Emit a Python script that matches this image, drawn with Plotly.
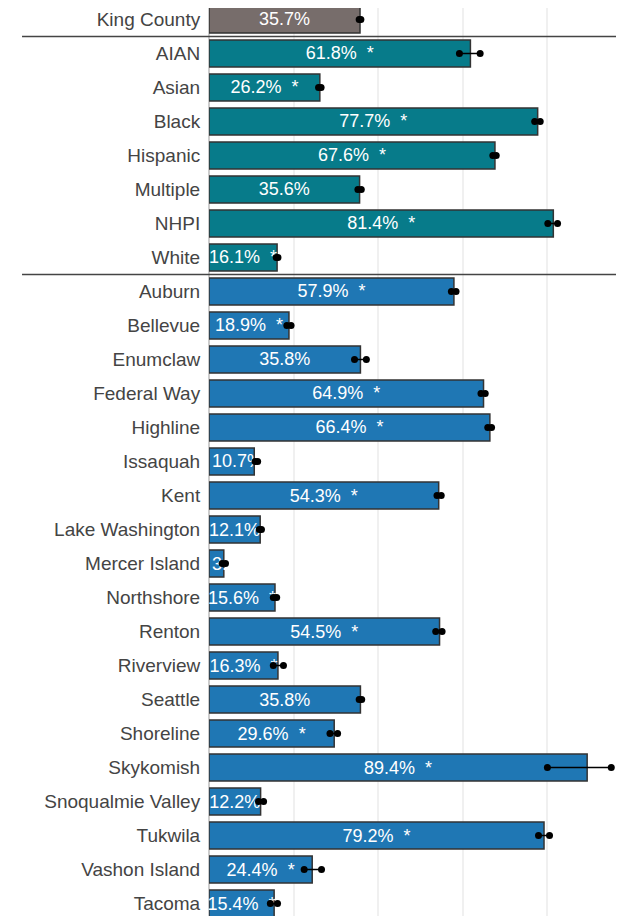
import plotly.graph_objects as go

categories = ["King County", "AIAN", "Asian", "Black", "Hispanic", "Multiple", "NHPI", "White",
              "Auburn", "Bellevue", "Enumclaw", "Federal Way", "Highline", "Issaquah", "Kent",
              "Lake Washington", "Mercer Island", "Northshore", "Renton", "Riverview", "Seattle",
              "Shoreline", "Skykomish", "Snoqualmie Valley", "Tukwila", "Vashon Island", "Tacoma"]
groups = ["county"] + ["race"] * 7 + ["district"] * 19
values = [35.7, 61.8, 26.2, 77.7, 67.6, 35.6, 81.4, 16.1,
          57.9, 18.9, 35.8, 64.9, 66.4, 10.7, 54.3,
          12.1, 3.5, 15.6, 54.5, 16.3, 35.8,
          29.6, 89.4, 12.2, 79.2, 24.4, 15.4]
ci_low = [35.5, 59.2, 25.9, 77.0, 67.1, 35.2, 80.1, 15.9,
          57.3, 18.4, 34.4, 64.3, 65.9, 10.9, 53.9,
          11.9, 3.1, 15.2, 53.6, 15.2, 35.5,
          28.6, 80.0, 11.7, 77.9, 22.5, 14.5]
ci_high = [35.9, 64.1, 26.5, 78.3, 67.9, 36.0, 82.4, 16.3,
           58.4, 19.4, 37.2, 65.3, 66.8, 11.5, 54.9,
           12.4, 3.9, 16.0, 55.1, 17.6, 36.1,
           30.4, 95.1, 12.9, 80.5, 26.6, 16.2]
significant = [False, True, True, True, True, False, True, True,
               True, True, False, True, True, False, True,
               False, False, True, True, True, False,
               True, True, False, True, True, True]

group_colors = {"county": "#776d6b", "race": "#077b8a", "district": "#1f77b4"}

labels = [f"{v:.1f}%  *" if s else f"{v:.1f}%" for v, s in zip(values, significant)]
bar_colors = [group_colors[g] for g in groups]

# bars too narrow for their label get the label anchored at the bar start
narrow = [v < 12 for v in values]

fig = go.Figure()
for anchor, pick in [("middle", False), ("start", True)]:
    idx = [i for i in range(len(categories)) if narrow[i] == pick]
    fig.add_trace(go.Bar(
        y=[categories[i] for i in idx], x=[values[i] for i in idx], orientation="h",
        marker=dict(color=[bar_colors[i] for i in idx], line=dict(color="#333333", width=1.5)),
        width=0.8,
        text=[labels[i] for i in idx], textposition="inside", insidetextanchor=anchor,
        constraintext="none", textangle=0, cliponaxis=False,
        textfont=dict(color="white", size=18, family="Arial, Liberation Sans"),
        showlegend=False, hoverinfo="skip",
    ))

ex, ey = [], []
for c, lo, hi in zip(categories, ci_low, ci_high):
    ex += [lo, hi, None]
    ey += [c, c, None]
fig.add_trace(go.Scatter(
    x=ex, y=ey, mode="lines+markers",
    line=dict(color="black", width=1.5),
    marker=dict(color="black", size=7),
    showlegend=False, hoverinfo="skip", cliponaxis=False,
))

for b in [0.5, 7.5]:
    fig.add_shape(type="line", xref="paper", yref="y", x0=-0.442, x1=1, y0=b, y1=b,
                  line=dict(color="#444444", width=1.5))

fig.update_layout(
    width=624, height=916,
    margin=dict(l=201, r=0, t=0, b=0),
    barmode="overlay",
    plot_bgcolor="white", paper_bgcolor="white",
    font=dict(family="Arial, Liberation Sans", size=19, color="#444444"),
    xaxis=dict(range=[0, 100], dtick=20, showticklabels=False, showgrid=True,
               gridcolor="#f0f0f0", gridwidth=1.5, zeroline=True, zerolinecolor="#cccccc",
               zerolinewidth=1.5),
    yaxis=dict(categoryorder="array", categoryarray=categories,
               range=[26.603, -0.338], ticks="outside", ticklen=4, tickcolor="rgba(0,0,0,0)",
               tickfont=dict(size=19, color="#444444"), showgrid=False, automargin=False),
)

fig.write_html("out.html")
